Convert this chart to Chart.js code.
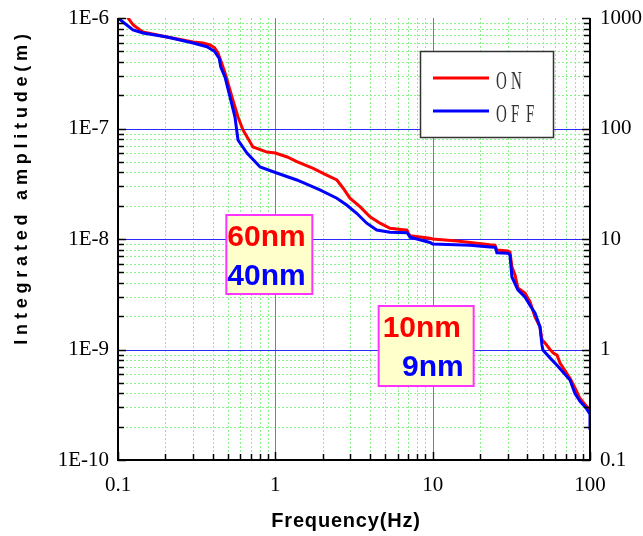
<!DOCTYPE html>
<html>
<head>
<meta charset="utf-8">
<title>Integrated amplitude</title>
<script src="https://cdn.jsdelivr.net/npm/chart.js@4"></script>
<style>
    body { margin: 0; background: #fff; }
    canvas { display: block; }
</style>
</head>
<body>
<canvas id="ampChart" width="643" height="536"></canvas>
<script>
// frequency (Hz) / integrated amplitude (nm)
var freqOn = [0.1, 0.116, 0.125, 0.138, 0.144, 0.205, 0.3, 0.347, 0.384, 0.41, 0.432, 0.465, 0.479, 0.53, 0.579, 0.623, 0.721, 0.885, 1, 1.19, 1.37, 1.74, 2.12, 2.46, 2.7, 2.98, 3.45, 4.0, 4.63, 5.36, 6.87, 7.0, 7.18, 9.62, 10, 14.3, 23.1, 24.9, 25.6, 30.1, 31.0, 31.9, 33.4, 34.8, 38.6, 41.6, 44.7, 48.1, 49.5, 51.7, 55.7, 58.5, 61.7, 64.5, 74.6, 80.3, 86.4, 94.4, 100, 100];
var ampOn = [1340, 1000, 864, 779, 747, 673, 607, 594, 570, 540, 482, 360, 318, 193, 127, 97, 68, 61.2, 60, 55.2, 50.1, 43.6, 37.9, 34.2, 28.8, 23.4, 19.6, 15.9, 13.9, 12.5, 12.0, 11.3, 10.7, 10.15, 10, 9.6, 8.85, 8.8, 7.95, 7.8, 7.6, 5.6, 4.7, 3.6, 3.25, 2.7, 1.97, 1.6, 1.22, 1.15, 1.0, 0.93, 0.89, 0.755, 0.55, 0.45, 0.36, 0.31, 0.285, 0.27];

var freqOff = [0.1, 0.1245, 0.144, 0.205, 0.3, 0.368, 0.41, 0.44, 0.45, 0.479, 0.515, 0.554, 0.579, 0.66, 0.8, 1, 1.37, 1.92, 2.46, 2.84, 3.29, 3.81, 4.41, 5.36, 6.87, 7.0, 7.18, 9.62, 10, 17.3, 23.1, 25.0, 25.6, 30.1, 31.0, 31.9, 34.8, 38.6, 41.6, 44.7, 48.1, 49.5, 50.2, 55.7, 61.7, 74.6, 80.3, 86.4, 94.4, 100, 100];
var ampOff = [1000, 779, 731, 673, 594, 550, 500, 430, 360, 292, 193, 127, 78.7, 60, 44.8, 40, 34.2, 27.8, 23.4, 20.3, 17.1, 13.9, 12.06, 11.5, 11.4, 11.0, 10.4, 9.3, 9.0, 8.8, 8.47, 8.4, 7.5, 7.45, 7.16, 4.53, 3.46, 2.99, 2.5, 2.14, 1.6, 1.10, 0.99, 0.84, 0.72, 0.53, 0.40, 0.34, 0.296, 0.26, 0.187];

var seriesNames = ['ON', 'OFF'];
var xTickLabels = ['0.1', '1', '10', '100'];
var leftTickLabels = ['1E-10', '1E-9', '1E-8', '1E-7', '1E-6'];
var rightTickLabels = ['0.1', '1', '10', '100', '1000'];

// values written in the two boxes (nm), at 1 Hz and 10 Hz
var noteFreq = [1, 10];
var noteOn = [60, 10];
var noteOff = [40, 9];

function pairs(xs, ys) {
    var out = [];
    for (var i = 0; i < xs.length; i++) out.push({ x: xs[i], y: ys[i] });
    return out;
}

// index of a decade value counted from 0.1, or -1
function decade(v) {
    var e = Math.log10(v);
    var r = Math.round(e);
    return Math.abs(e - r) < 1e-6 ? r + 1 : -1;
}

function logGrid(min, max) {
    var out = [];
    for (var e = Math.floor(Math.log10(min)); e <= Math.ceil(Math.log10(max)); e++) {
        for (var k = 1; k <= 9; k++) {
            var v = k * Math.pow(10, e);
            if (v >= min * 0.999 && v <= max * 1.001) out.push({ v: v, major: k === 1 });
        }
    }
    return out;
}

function seg(c, x1, y1, x2, y2) {
    c.beginPath();
    c.moveTo(x1, y1);
    c.lineTo(x2, y2);
    c.stroke();
}

var frame = {
    id: 'frame',
    beforeDatasetsDraw: function (chart) {
        var c = chart.ctx, a = chart.chartArea;
        var xs = chart.scales.x, ys = chart.scales.y;
        var gx = logGrid(xs.min, xs.max), gy = logGrid(ys.min, ys.max);
        c.save();
        c.lineWidth = 1;

        // dotted minor grid
        c.strokeStyle = '#8cf28c';
        c.setLineDash([2, 2]);
        gx.forEach(function (g) {
            if (g.major) return;
            var px = Math.round(xs.getPixelForValue(g.v)) + 0.5;
            seg(c, px, a.top, px, a.bottom);
        });
        gy.forEach(function (g) {
            if (g.major) return;
            var py = Math.round(ys.getPixelForValue(g.v)) + 0.5;
            seg(c, a.left, py, a.right, py);
        });
        c.setLineDash([]);

        // decade lines (none along the open top edge)
        c.strokeStyle = '#6e6eff';
        gx.forEach(function (g) {
            if (!g.major) return;
            var px = Math.round(xs.getPixelForValue(g.v)) + 0.5;
            seg(c, px, a.top, px, a.bottom);
        });
        c.strokeStyle = '#2a2aff';
        gy.forEach(function (g) {
            if (!g.major || g.v >= ys.max * 0.999) return;
            var py = Math.round(ys.getPixelForValue(g.v)) + 0.5;
            seg(c, a.left, py, a.right, py);
        });
        c.restore();
    },
    afterDatasetsDraw: function (chart) {
        var c = chart.ctx, a = chart.chartArea;
        var xs = chart.scales.x, ys = chart.scales.y;
        var gx = logGrid(xs.min, xs.max), gy = logGrid(ys.min, ys.max);
        var ds = chart.data.datasets;
        c.save();

        // axis lines (no top border)
        c.strokeStyle = '#000';
        c.lineWidth = 2;
        c.beginPath();
        c.moveTo(a.left, a.top);
        c.lineTo(a.left, a.bottom);
        c.lineTo(a.right, a.bottom);
        c.lineTo(a.right, a.top);
        c.stroke();

        // inward tick marks
        c.lineWidth = 1.5;
        gy.forEach(function (g) {
            var py = Math.round(ys.getPixelForValue(g.v)) + 0.5;
            var len = g.major ? 8 : 6;
            seg(c, a.left, py, a.left + len, py);
            seg(c, a.right - len, py, a.right, py);
        });
        gx.forEach(function (g) {
            var px = Math.round(xs.getPixelForValue(g.v)) + 0.5;
            seg(c, px, a.bottom, px, a.bottom - (g.major ? 8 : 6));
        });

        // legend box
        var lx = 420, ly = 51;
        c.fillStyle = '#fff';
        c.fillRect(lx, ly, 133, 86);
        c.strokeStyle = '#333';
        c.lineWidth = 1.5;
        c.strokeRect(lx + 0.5, ly + 0.5, 133, 86);
        [0, 1].forEach(function (i) {
            var yy = ly + 27 + i * 33;
            c.strokeStyle = ds[i].borderColor;
            c.lineWidth = 3;
            seg(c, lx + 13, yy, lx + 69, yy);
            c.fillStyle = '#333';
            c.font = '25px "Liberation Serif"';
            var name = ds[i].label;
            for (var k = 0; k < name.length; k++) {
                c.save();
                c.translate(lx + 76 + k * 15, yy + 11);
                c.scale(0.6, 1);
                c.fillText(name[k], 0, 0);
                c.restore();
            }
        });

        // value boxes
        var boxes = [
            { left: xs.getPixelForValue(noteFreq[0]) - 49, top: a.top + 197, w: 86, h: 79, right: false },
            { left: xs.getPixelForValue(noteFreq[1]) - 54, top: a.top + 288, w: 95, h: 80, right: true }
        ];
        boxes.forEach(function (b, i) {
            c.fillStyle = '#ffffcc';
            c.fillRect(b.left, b.top, b.w, b.h);
            c.strokeStyle = '#ff33ff';
            c.lineWidth = 2;
            c.strokeRect(b.left, b.top, b.w, b.h);
            c.font = 'bold 30px "Liberation Sans"';
            c.textBaseline = 'alphabetic';
            c.textAlign = 'left';
            c.fillStyle = ds[0].borderColor;
            c.fillText(noteOn[i] + 'nm', b.left + (b.right ? 4 : 1), b.top + 31);
            c.fillStyle = ds[1].borderColor;
            if (b.right) {
                c.textAlign = 'right';
                c.fillText(noteOff[i] + 'nm', b.left + b.w - 10, b.top + 70);
            } else {
                c.fillText(noteOff[i] + 'nm', b.left + 1, b.top + 70);
            }
        });

        // axis titles
        c.fillStyle = '#000';
        c.textAlign = 'center';
        c.textBaseline = 'middle';
        c.font = 'bold 20px "Liberation Sans"';
        c.letterSpacing = '0.8px';
        c.fillText('Frequency(Hz)', 346, 521);
        c.save();
        c.translate(22, 187);
        c.rotate(-Math.PI / 2);
        c.font = 'bold 18px "Liberation Sans"';
        c.letterSpacing = '4.8px';
        c.fillText('Integrated amplitude(m)', 0, 0);
        c.restore();
        c.restore();
    }
};

var tickFont = { family: 'Liberation Serif', size: 21 };

function fixWidth(w) {
    return function (s) {
        s.width = w;
        s.paddingTop = 0;
        s.paddingBottom = 0;
    };
}

var ampChart = new Chart(document.getElementById('ampChart'), {
    type: 'line',
    data: {
        datasets: [
            {
                label: seriesNames[0],
                data: pairs(freqOn, ampOn),
                borderColor: '#ff0000',
                borderWidth: 3,
                pointRadius: 0,
                tension: 0,
                order: 1
            },
            {
                label: seriesNames[1],
                data: pairs(freqOff, ampOff),
                borderColor: '#0000ff',
                borderWidth: 3,
                pointRadius: 0,
                tension: 0,
                order: 0
            }
        ]
    },
    options: {
        responsive: false,
        animation: false,
        layout: { padding: { top: 18, left: 0, right: 0, bottom: 0 } },
        plugins: {
            legend: { display: false },
            tooltip: { enabled: false }
        },
        scales: {
            x: {
                type: 'logarithmic',
                min: 0.1,
                max: 100,
                grid: { display: false, drawTicks: false },
                border: { display: false },
                ticks: {
                    autoSkip: false,
                    maxRotation: 0,
                    padding: 13,
                    color: '#000',
                    font: tickFont,
                    callback: function (v) {
                        var i = decade(v);
                        return i >= 0 ? xTickLabels[i] : '';
                    }
                },
                afterFit: function (s) {
                    s.height = 76;
                    s.paddingLeft = 0;
                    s.paddingRight = 0;
                }
            },
            y: {
                type: 'logarithmic',
                position: 'left',
                min: 0.1,
                max: 1000,
                grid: { display: false, drawTicks: false },
                border: { display: false },
                ticks: {
                    autoSkip: false,
                    padding: 9,
                    color: '#000',
                    font: tickFont,
                    callback: function (v) {
                        var i = decade(v);
                        return i >= 0 ? leftTickLabels[i] : '';
                    }
                },
                afterFit: fixWidth(118)
            },
            y2: {
                type: 'logarithmic',
                position: 'right',
                min: 0.1,
                max: 1000,
                grid: { display: false, drawTicks: false },
                border: { display: false },
                ticks: {
                    autoSkip: false,
                    padding: 10,
                    color: '#000',
                    font: tickFont,
                    callback: function (v) {
                        var i = decade(v);
                        return i >= 0 ? rightTickLabels[i] : '';
                    }
                },
                afterFit: fixWidth(53)
            }
        }
    },
    plugins: [frame]
});
</script>
</body>
</html>
